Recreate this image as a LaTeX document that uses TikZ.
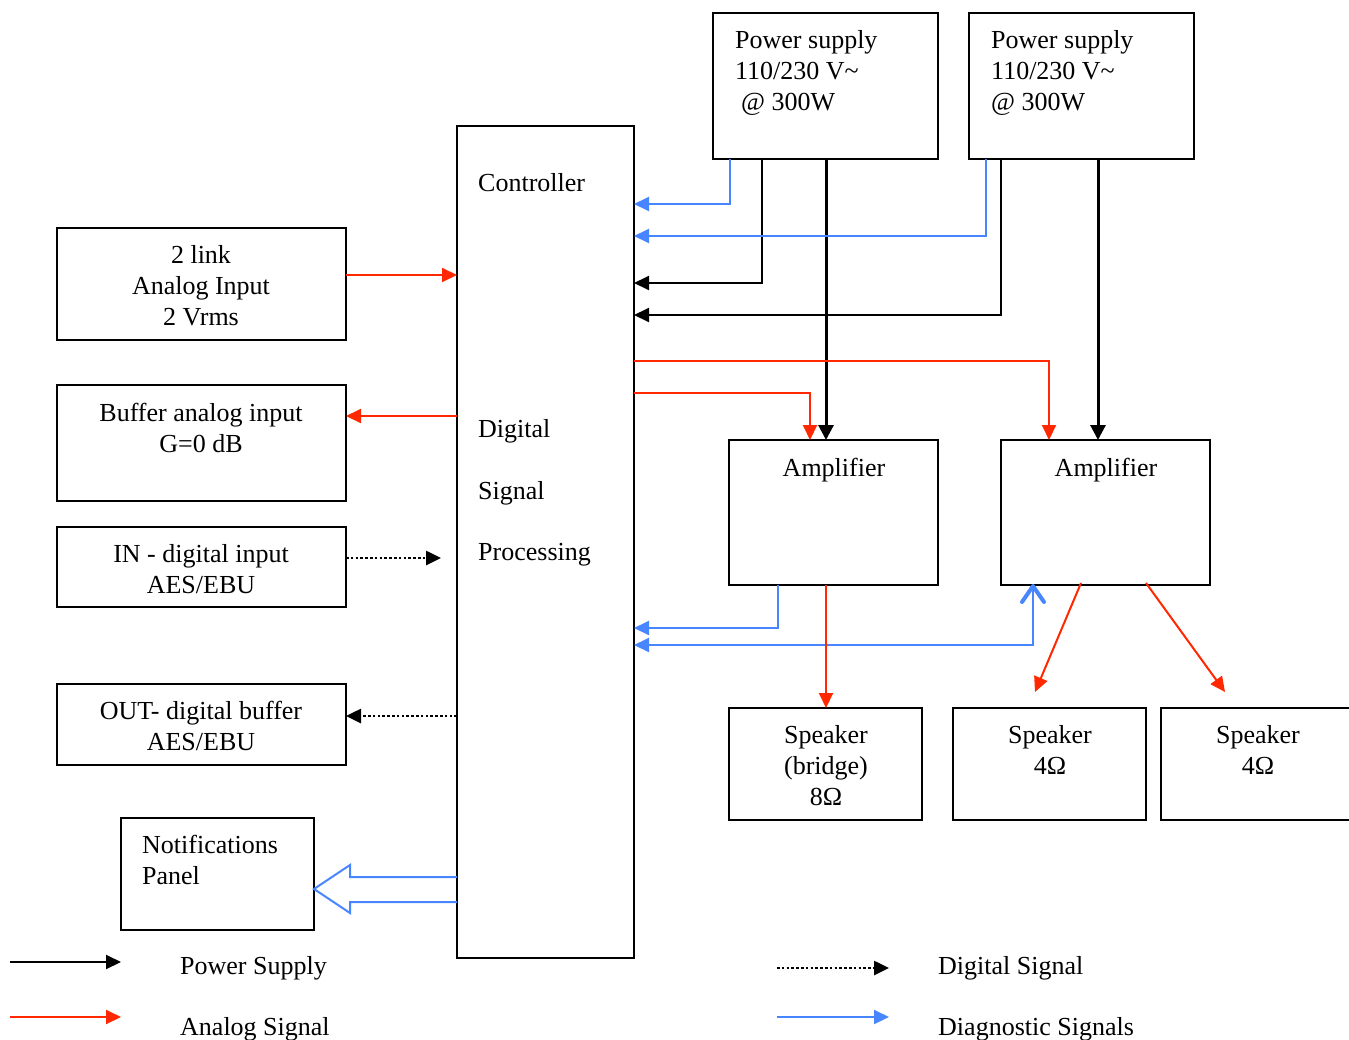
\documentclass[tikz,border=0pt]{standalone}
\usepackage{fontspec}
\setmainfont{Liberation Serif}
\usetikzlibrary{arrows.meta,calc}
\definecolor{sigred}{RGB}{255,40,0}
\definecolor{diagblue}{RGB}{72,134,255}
\tikzset{
  box/.style={draw=black, line width=2pt, rectangle, inner sep=0pt, outer sep=0pt, anchor=north west},
  lbl/.style={font=\fontsize{26}{31}\selectfont, inner sep=0pt, anchor=base west},
  clbl/.style={font=\fontsize{26}{31}\selectfont, inner sep=0pt, anchor=base},
  tri/.tip={Triangle[length=15pt,width=14pt]},
  pwr/.style={draw=black, line width=2pt, -tri},
  pwrthick/.style={draw=black, line width=3pt, -{Triangle[length=15pt,width=15pt]}},
  ana/.style={draw=sigred, line width=2pt, -{Triangle[length=15pt,width=14pt,sigred]}},
  dig/.style={draw=black, line width=2.6pt, dash pattern=on 2.6pt off 2.2pt, -{Triangle[length=15pt,width=14pt,sep=0pt]}},
  dia/.style={draw=diagblue, line width=2pt, -{Triangle[length=15pt,width=14pt,diagblue]}},
  barb/.style={draw=diagblue, line width=4pt, line cap=round, line join=round},
}
\newcommand{\bx}[5]{\node[box, minimum width={(#4-#2)*1pt}, minimum height={(#5-#3)*1pt}] (#1) at (#2,#3) {};}
\begin{document}
\begin{tikzpicture}[x=1pt,y=-1pt]
\useasboundingbox (0,0) rectangle (1349,1039);
% boxes
\bx{ps1}{713}{13}{938}{159}
\bx{ps2}{969}{13}{1194}{159}
\bx{dsp}{457}{126}{634}{958}
\bx{link}{57}{228}{346}{340}
\bx{buf}{57}{385}{346}{501}
\bx{din}{57}{527}{346}{607}
\bx{dout}{57}{684}{346}{765}
\bx{notif}{121}{818}{314}{930}
\bx{amp1}{729}{440}{938}{585}
\bx{amp2}{1001}{440}{1210}{585}
\bx{spk1}{729}{708}{922}{820}
\bx{spk2}{953}{708}{1146}{820}
\bx{spk3}{1161}{708}{1362}{820}
% texts
\node[lbl] (ps1a) at (735,48) {Power supply};
\node[lbl] (ps1b) at (735,79) {110/230 V\textasciitilde};
\node[lbl] (ps1c) at (741,110) {@ 300W};
\node[lbl] (ps2a) at (991,48) {Power supply};
\node[lbl] (ps2b) at (991,79) {110/230 V\textasciitilde};
\node[lbl] (ps2c) at (991,110) {@ 300W};
\node[lbl] (ctl) at (478,191) {Controller};
\node[lbl] (dsp1) at (478,437) {Digital};
\node[lbl] (dsp2) at (478,499) {Signal};
\node[lbl] (dsp3) at (478,560) {Processing};
\node[clbl] (lk1) at (201,263) {2 link};
\node[clbl] (lk2) at (201,294) {Analog Input};
\node[clbl] (lk3) at (201,325) {2 Vrms};
\node[clbl] (bf1) at (201,421) {Buffer analog input};
\node[clbl] (bf2) at (201,452) {G=0 dB};
\node[clbl] (in1) at (201,562) {IN - digital input};
\node[clbl] (in2) at (201,593) {AES/EBU};
\node[clbl] (ou1) at (201,719) {OUT- digital buffer};
\node[clbl] (ou2) at (201,750) {AES/EBU};
\node[lbl] (nt1) at (142,853) {Notifications};
\node[lbl] (nt2) at (142,884) {Panel};
\node[clbl] (am1) at (834,476) {Amplifier};
\node[clbl] (am2) at (1106,476) {Amplifier};
\node[clbl] (s1a) at (826,743) {Speaker};
\node[clbl] (s1b) at (826,774) {(bridge)};
\node[clbl] (s1c) at (826,805) {8Ω};
\node[clbl] (s2a) at (1050,743) {Speaker};
\node[clbl] (s2b) at (1050,774) {4Ω};
\node[clbl] (s3a) at (1258,743) {Speaker};
\node[clbl] (s3b) at (1258,774) {4Ω};
% coordinates on box edges
\coordinate (p1blue) at ($(ps1.south west)+(17,0)$);
\coordinate (p1blk) at ($(ps1.south west)+(49,0)$);
\coordinate (p1amp) at ($(ps1.south west)+(113,0)$);
\coordinate (p2blue) at ($(ps2.south west)+(17,0)$);
\coordinate (p2blk) at ($(ps2.south west)+(32,0)$);
\coordinate (p2amp) at ($(ps2.south west)+(129,0)$);
\coordinate (a1in) at ($(amp1.north west)+(81,0)$);
\coordinate (a2in) at ($(amp2.north west)+(48,0)$);
\coordinate (a1out) at ($(amp1.south west)+(97,0)$);
\coordinate (a1diag) at ($(amp1.south west)+(49,0)$);
\coordinate (a2diag) at ($(amp2.south west)+(32,1)$);
\coordinate (a2outl) at ($(amp2.south west)+(80,-2)$);
\coordinate (a2outr) at ($(amp2.south west)+(145,-2)$);
\coordinate (s2end) at ($(spk2.north west)+(82,-16)$);
\coordinate (s3end) at ($(spk3.north west)+(64,-16)$);
\coordinate (lkout) at ($(link.north east)+(0,47)$);
\coordinate (inend) at ($(dsp.west)+(-16,0)$);
% power
\draw[pwr] (p1blk) |- (dsp.east |- 0,283);
\draw[pwr] (p2blk) |- (dsp.east |- 0,315);
\draw[pwrthick] (p1amp) -- (p1amp |- amp1.north);
\draw[pwrthick] (p2amp) -- (p2amp |- amp2.north);
% diagnostic
\draw[dia] (p1blue) |- (dsp.east |- 0,204);
\draw[dia] (p2blue) |- (dsp.east |- 0,236);
\draw[dia] (a1diag) |- (dsp.east |- 0,628);
\draw[dia] (a2diag) |- (dsp.east |- 0,645);
\draw[barb] ($(a2diag)+(-11,16)$) -- (a2diag) -- ($(a2diag)+(11,16)$);
% analog
\draw[ana] (dsp.east |- 0,361) -| (a2in);
\draw[ana] (dsp.east |- 0,393) -| (a1in);
\draw[ana] (lkout) -- (dsp.west |- lkout);
\draw[ana] (dsp.west |- 0,416) -- (buf.east |- 0,416);
\draw[ana] (a1out) -- (a1out |- spk1.north);
\draw[ana] (a2outl) -- (s2end);
\draw[ana] (a2outr) -- (s3end);
% digital
\draw[dig] (din.east |- 0,558) -- (inend |- 0,558);
\draw[dig] (dsp.west |- 0,716) -- (dout.east |- 0,716);
% notification fat arrow
\draw[diagblue, line width=2pt, line join=miter] (dsp.west |- 0,877) -- (350,877) -- (350,865) -- (notif.east |- 0,889) -- (350,913) -- (350,902) -- (dsp.west |- 0,902);
% legend
\coordinate (lg1a) at (10,962); \coordinate (lg1b) at (121,962);
\coordinate (lg2a) at (10,1017); \coordinate (lg2b) at (121,1017);
\coordinate (lg3a) at (777,968); \coordinate (lg3b) at (889,968);
\coordinate (lg4a) at (777,1017); \coordinate (lg4b) at (889,1017);
\draw[pwr] (lg1a) -- (lg1b);
\draw[ana] (lg2a) -- (lg2b);
\draw[dig] (lg3a) -- (lg3b);
\draw[dia] (lg4a) -- (lg4b);
\node[lbl] (lgt1) at (180,974) {Power Supply};
\node[lbl] (lgt2) at (180,1035) {Analog Signal};
\node[lbl] (lgt3) at (938,974) {Digital Signal};
\node[lbl] (lgt4) at (938,1035) {Diagnostic Signals};
\end{tikzpicture}
\end{document}
